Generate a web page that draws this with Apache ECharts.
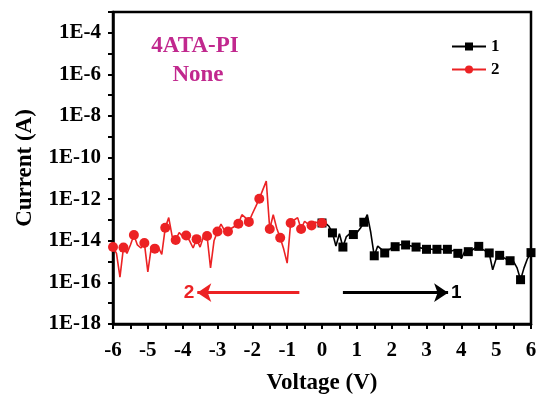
<!DOCTYPE html>
<html>
  <head>
    <meta charset="UTF-8" />
    <title>4ATA-PI I-V</title>
    <style>
      html, body { margin: 0; padding: 0; background: #fff; }
      #main { width: 538px; height: 396px; }
    </style>
  </head>
  <body>
    <div id="main"></div>
    <script src="https://cdn.jsdelivr.net/npm/echarts@6/dist/echarts.min.js"></script>
    <script>
      // sweep 1: 0 -> 6 V, step 0.1
      const voltage1 = [
        0.0, 0.1, 0.2, 0.3, 0.4, 0.5, 0.6, 0.7, 0.8, 0.9,
        1.0, 1.1, 1.2, 1.3, 1.4, 1.5, 1.6, 1.7, 1.8, 1.9,
        2.0, 2.1, 2.2, 2.3, 2.4, 2.5, 2.6, 2.7, 2.8, 2.9,
        3.0, 3.1, 3.2, 3.3, 3.4, 3.5, 3.6, 3.7, 3.8, 3.9,
        4.0, 4.1, 4.2, 4.3, 4.4, 4.5, 4.6, 4.7, 4.8, 4.9,
        5.0, 5.1, 5.2, 5.3, 5.4, 5.5, 5.6, 5.7, 5.8, 5.9, 6.0
      ]
      const current1 = [
        7.2e-14, 7.1e-14, 5.0e-14, 2.4e-14, 5.6e-15, 2.2e-14, 5.0e-15, 1.6e-14, 2.2e-14, 2.0e-14,
        2.4e-14, 4.0e-14, 7.8e-14, 1.8e-13, 2.5e-14, 1.9e-15, 5.6e-15, 4.0e-15, 2.6e-15, 3.5e-15,
        4.5e-15, 5.2e-15, 6.3e-15, 6.6e-15, 6.3e-15, 6.0e-15, 5.4e-15, 5.0e-15, 4.7e-15, 4.3e-15,
        3.9e-15, 4.0e-15, 3.8e-15, 3.9e-15, 4.0e-15, 3.7e-15, 3.9e-15, 3.2e-15, 3.5e-15, 2.5e-15,
        1.4e-15, 3.2e-15, 3.0e-15, 3.5e-15, 4.5e-15, 5.4e-15, 4.0e-15, 3.2e-15, 2.6e-15, 4.0e-16,
        1.4e-15, 2.0e-15, 1.6e-15, 1.3e-15, 1.1e-15, 1.0e-15, 5.0e-16, 1.35e-16, 5.0e-16, 1.4e-15, 2.7e-15
      ]

      // sweep 2: 0 -> -6 V, step 0.1
      const voltage2 = [
        0.0, -0.1, -0.2, -0.3, -0.4, -0.5, -0.6, -0.7, -0.8, -0.9,
        -1.0, -1.1, -1.2, -1.3, -1.4, -1.5, -1.6, -1.7, -1.8, -1.9,
        -2.0, -2.1, -2.2, -2.3, -2.4, -2.5, -2.6, -2.7, -2.8, -2.9,
        -3.0, -3.1, -3.2, -3.3, -3.4, -3.5, -3.6, -3.7, -3.8, -3.9,
        -4.0, -4.1, -4.2, -4.3, -4.4, -4.5, -4.6, -4.7, -4.8, -4.9,
        -5.0, -5.1, -5.2, -5.3, -5.4, -5.5, -5.6, -5.7, -5.8, -5.9, -6.0
      ]
      const current2 = [
        7.2e-14, 7.2e-14, 7.9e-14, 5.5e-14, 6.3e-14, 8.7e-14, 3.7e-14, 1.3e-13, 1.0e-13, 7.2e-14,
        8.5e-16, 4.0e-15, 1.4e-14, 4.0e-14, 1.8e-13, 3.7e-14, 7.4e-12, 2.8e-12, 1.05e-12, 4.5e-13,
        2.0e-13, 8.1e-14, 1.3e-13, 1.8e-13, 6.6e-14, 5.0e-14, 4.0e-14, 2.8e-14, 3.2e-14, 6.3e-14,
        2.8e-14, 1.0e-14, 5.0e-16, 1.7e-14, 1.6e-14, 5.0e-15, 1.2e-14, 4.5e-15, 1.0e-14, 1.8e-14,
        1.6e-14, 2.5e-14, 1.1e-14, 1.6e-14, 1.3e-13, 4.2e-14, 2.2e-15, 5.0e-15, 4.2e-15, 5.0e-15,
        3.2e-16, 7.9e-15, 4.5e-15, 6.3e-15, 1.9e-14, 6.3e-15, 2.5e-15, 4.7e-15, 1.8e-16, 2.5e-15, 5.0e-15
      ]

      // a marker on every third point, as in the original plot
      const markerEvery = 3

      // sweep direction arrows: [from V, to V, at current]
      const arrow1 = [0.6, 3.62, 3.2e-17]
      const arrow2 = [-0.65, -3.58, 3.2e-17]

      const serif = "'Liberation Serif', 'Times New Roman', serif"
      const red = '#ec2224'
      const black = '#000000'

      let buildData = function (xs, ys, symbol) {
        return xs.map((x, i) => ({
          value: [x, ys[i]],
          symbol: i % markerEvery === 0 ? symbol : 'none',
        }))
      }

      let arrowLine = function (a, color, text) {
        return {
          silent: true,
          symbol: ['none', 'arrow'],
          symbolSize: [14, 14],
          lineStyle: { color: color, width: 3, type: 'solid' },
          label: {
            show: true,
            position: 'end',
            formatter: text,
            color: color,
            fontFamily: 'Liberation Sans, Arial, sans-serif',
            fontWeight: 'bold',
            fontSize: 19,
            distance: 3,
          },
          data: [[{ coord: [a[0], a[2]] }, { coord: [a[1], a[2]] }]],
        }
      }

      const myChart = echarts.init(document.getElementById('main'))
      myChart.setOption({
        animation: false,
        grid: {
          left: 113,
          right: 7,
          top: 12,
          bottom: 72,
          outerBoundsMode: 'none',
          show: true,
          borderColor: '#000',
          borderWidth: 2.5,
        },
        legend: {
          orient: 'vertical',
          left: 446,
          top: 33,
          itemWidth: 34,
          itemHeight: 10,
          itemGap: 6,
          textStyle: {
            fontFamily: serif,
            fontWeight: 'bold',
            fontSize: 17,
            color: '#000',
          },
          data: ['1', '2'],
        },
        graphic: [
          {
            type: 'text',
            x: 195,
            y: 46,
            style: {
              text: '4ATA-PI',
              align: 'center',
              verticalAlign: 'middle',
              fill: '#c1288e',
              font: 'bold 23px ' + serif,
            },
          },
          {
            type: 'text',
            x: 198,
            y: 75,
            style: {
              text: 'None',
              align: 'center',
              verticalAlign: 'middle',
              fill: '#c1288e',
              font: 'bold 23px ' + serif,
            },
          },
        ],
        xAxis: {
          type: 'value',
          min: -6,
          max: 6,
          interval: 0.5,
          name: 'Voltage (V)',
          nameLocation: 'middle',
          nameGap: 48,
          nameTextStyle: {
            fontFamily: serif,
            fontWeight: 'bold',
            fontSize: 23,
            color: '#000',
          },
          axisLine: { onZero: false, lineStyle: { color: '#000', width: 2.5 } },
          axisTick: { inside: false, length: 5, lineStyle: { color: '#000', width: 2 } },
          axisLabel: {
            margin: 16,
            fontFamily: serif,
            fontWeight: 'bold',
            fontSize: 21,
            color: '#000',
            formatter: (v) => (Number.isInteger(v) ? String(v) : ''),
          },
          splitLine: { show: false },
        },
        yAxis: {
          type: 'log',
          logBase: 10,
          min: 1e-18,
          max: 1e-3,
          interval: 1,
          name: 'Current (A)',
          nameLocation: 'middle',
          nameGap: 76,
          nameTextStyle: {
            fontFamily: serif,
            fontWeight: 'bold',
            fontSize: 23,
            color: '#000',
          },
          axisLine: { onZero: false, lineStyle: { color: '#000', width: 2.5 } },
          axisTick: { inside: false, length: 5, lineStyle: { color: '#000', width: 2 } },
          axisLabel: {
            margin: 12,
            fontFamily: serif,
            fontWeight: 'bold',
            fontSize: 21,
            color: '#000',
            formatter: (v) => {
              const e = Math.round(Math.log10(v))
              return e % 2 === 0 && e <= -4 ? '1E' + e : ''
            },
          },
          splitLine: { show: false },
        },
        series: [
          {
            name: '1',
            type: 'line',
            symbol: 'rect',
            symbolSize: 9,
            showAllSymbol: true,
            color: black,
            lineStyle: { color: black, width: 1.6 },
            itemStyle: { color: black },
            data: buildData(voltage1, current1, 'rect'),
            markLine: arrowLine(arrow1, black, '1'),
          },
          {
            name: '2',
            type: 'line',
            symbol: 'circle',
            symbolSize: 10,
            showAllSymbol: true,
            color: red,
            lineStyle: { color: red, width: 1.6 },
            itemStyle: { color: red },
            data: buildData(voltage2, current2, 'circle'),
            markLine: arrowLine(arrow2, red, '2'),
          },
        ],
      })
    </script>
  </body>
</html>
